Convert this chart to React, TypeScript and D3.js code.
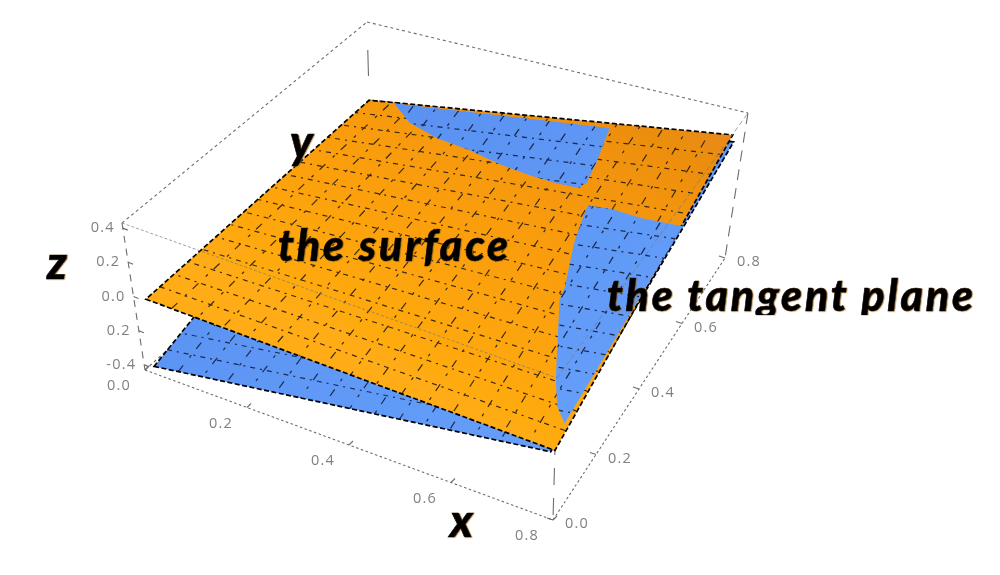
import React from "react";
import * as d3 from "d3";

const W = 1000, H = 575;
const xDomain = [0, 0.8], yDomain = [0, 0.8], zDomain = [-0.43, 0.43];
const xTicks = [0, 0.2, 0.4, 0.6, 0.8];
const yTicks = [0, 0.2, 0.4, 0.6, 0.8];
const zTicks = [-0.4, -0.2, 0, 0.2, 0.4];
const xTickLabels = ["0.0", "0.2", "0.4", "0.6", "0.8"];
const yTickLabels = ["0.0", "0.2", "0.4", "0.6", "0.8"];
const zTickLabels = ["-0.4", "0.2", "0.0", "0.2", "0.4"];

// Surface corners: order (x0,y0) (x1,y0) (x1,y1) (x0,y1)
const surfaceX = [0.024, 0.8, 0.776, 0];
const surfaceY = [0, 0, 0.8, 0.8];
const surfaceZ = [0.011, -0.009, 0.284, -0.034];
const planeX = [0.02, 0.792, 0.78, 0];
const planeY = [0, 0, 0.8, 0.8];
const planeZ = [-0.387, -0.026, 0.245, -0.034];
const meshLines = 15;

// Where the plane shows through the surface, in plane parameters [s, t]
const planeGapBack: [number, number][] = [[0.07,1],[0.15,0.94],[0.25,0.9],[0.35,0.875],[0.46,0.84],[0.545,0.82],[0.626,0.805],[0.69,0.8],[0.7,0.82],[0.69,0.89],[0.665,1]];
const planeGapFront: [number, number][] = [[0.74,0.75],[0.8,0.75],[0.888,0.735],[1,0.728],[0.995,0.09],[0.957,0.135],[0.918,0.213],[0.816,0.45],[0.81,0.49],[0.765,0.63],[0.745,0.72]];

// Box corner projection
const B00 = [145, 370], B10 = [553, 520], B11 = [725, 258], B01 = [371, 167];
const T00 = [122, 223], T10 = [557, 378], T11 = [748, 113], T01 = [367, 22];

const uS = d3.scaleLinear().domain(xDomain).range([0, 1]);
const vS = d3.scaleLinear().domain(yDomain).range([0, 1]);
const wS = d3.scaleLinear().domain(zDomain).range([0, 1]);

function bil(a: number[], b: number[], c: number[], d: number[], s: number, t: number): [number, number] {
  const f = (i: number) => a[i] * (1 - s) * (1 - t) + b[i] * s * (1 - t) + c[i] * s * t + d[i] * (1 - s) * t;
  return [f(0), f(1)];
}
function project(x: number, y: number, z: number): [number, number] {
  const u = uS(x), v = vS(y), w = wS(z);
  const bot = bil(B00, B10, B11, B01, u, v);
  const top = bil(T00, T10, T11, T01, u, v);
  return [bot[0] + (top[0] - bot[0]) * w, bot[1] + (top[1] - bot[1]) * w];
}
function sheet(xs: number[], ys: number[], zs: number[]) {
  const c = xs.map((v, i) => [v, ys[i]]);
  return (s: number, t: number) => {
    const [x, y] = bil(c[0], c[1], c[2], c[3], s, t);
    const z = zs[0] * (1 - s) * (1 - t) + zs[1] * s * (1 - t) + zs[2] * s * t + zs[3] * (1 - s) * t;
    return project(x, y, z);
  };
}
const surfaceAt = sheet(surfaceX, surfaceY, surfaceZ);
const planeAt = sheet(planeX, planeY, planeZ);
const line = d3.line();
const closed = (pts: [number, number][]) => line(pts) + "Z";
const outline = (at: (s: number, t: number) => [number, number]) => closed([at(0, 0), at(1, 0), at(1, 1), at(0, 1)]);
const meshFractions = d3.range(1, meshLines + 1).map((i) => i / (meshLines + 1));

function Mesh({ at, color, width }: { at: (s: number, t: number) => [number, number]; color: string; width: number }) {
  return (
    <g fill="none" stroke={color} strokeWidth={width}>
      {meshFractions.map((f, i) => (
        <path key={"a" + f} d={line([at(0, f), at(1, f)]) as string} strokeDasharray="5 5 2 5" strokeDashoffset={i * 5} />
      ))}
      {meshFractions.map((f, i) => (
        <path key={"b" + f} d={line([at(f, 0), at(f, 1)]) as string} strokeDasharray="8 10 3 8" strokeDashoffset={i * 13} />
      ))}
    </g>
  );
}

const seg = (a: number[], b: number[]) => line([a as [number, number], b as [number, number]]) as string;

export default function App() {
  const grey = "#6d6d6d";
  const labelStyle = { fontFamily: "'Open Sans', 'DejaVu Sans', sans-serif", fontSize: 14.5, fill: "#808080", letterSpacing: 1.2 };
  const bigStyle = { fontFamily: "Lato, 'Open Sans', sans-serif", fontWeight: 900, fontStyle: "italic", fill: "#000", stroke: "#000", strokeWidth: 0.6 } as const;
  return (
    <svg width={W} height={H} viewBox={`0 0 ${W} ${H}`} style={{ position: "absolute", left: 0, top: 0, background: "#fff" }}>
      <defs>
        <linearGradient id="orangeGrad" gradientUnits="userSpaceOnUse" x1={700} y1={120} x2={520} y2={440}>
          <stop offset="0" stopColor="#e88a12" />
          <stop offset="0.3" stopColor="#f4960e" />
          <stop offset="0.6" stopColor="#fb9f0e" />
          <stop offset="1" stopColor="#ffac12" />
        </linearGradient>
        <linearGradient id="blueGrad" gradientUnits="userSpaceOnUse" x1={400} y1={120} x2={600} y2={420}>
          <stop offset="0" stopColor="#5a92f2" />
          <stop offset="1" stopColor="#659ffa" />
        </linearGradient>
        <clipPath id="gapClip">
          <path d={closed(planeGapBack.map(([s, t]) => planeAt(s, t)))} />
          <path d={closed(planeGapFront.map(([s, t]) => planeAt(s, t)))} />
        </clipPath>
        <clipPath id="planeLabelClip">
          <rect x={590} y={270} width={400} height={45} />
        </clipPath>
        <filter id="soft" x="-5%" y="-5%" width="110%" height="110%">
          <feGaussianBlur stdDeviation="0.65" />
        </filter>
        <filter id="halo" x="-5%" y="-20%" width="110%" height="140%">
          <feGaussianBlur stdDeviation="0.4" result="b" />
          <feDropShadow in="b" dx="0.8" dy="0.4" stdDeviation="0.6" floodColor="#9a6a20" floodOpacity="0.7" />
        </filter>
      </defs>
      <g filter="url(#soft)">
        {/* back box edges */}
        <g fill="none" stroke={grey} strokeWidth={1.1}>
          <path d={seg(T00, T01)} strokeDasharray="3 3" />
          <path d={seg(T01, T11)} strokeDasharray="3 3" />
          <path d={seg(T00, B00)} strokeDasharray="7 6" />
          <path d={seg(T11, B11)} strokeDasharray="11 8" />
          <path d={seg(T01, B01)} strokeDasharray="26 100" strokeDashoffset={-28} />
          <path d={seg(B00, B01)} strokeDasharray="3 3" />
          <path d={seg(B00, B10)} strokeDasharray="2.5 2.5" />
          <path d={seg(B10, B11)} strokeDasharray="2.5 2.5" />
          <path d={seg(T10, B10)} strokeDasharray="17 13" />
          {xTicks.map((t) => {
            const p = project(t, 0, zDomain[0]);
            return <path key={"xt" + t} d={seg(p, [p[0] + 4, p[1] - 4])} />;
          })}
          {yTicks.map((t) => {
            const p = project(0.8, t, zDomain[0]);
            return <path key={"yt" + t} d={seg(p, [p[0] - 6, p[1] - 2])} />;
          })}
          {zTicks.map((t) => {
            const p = project(0, 0, t);
            return <path key={"zt" + t} d={seg(p, [p[0] + 5, p[1] + 2])} />;
          })}
        </g>

        {/* tangent plane */}
        <path d={outline(planeAt)} fill="url(#blueGrad)" />
        <Mesh at={planeAt} color="#1d2c50" width={1.2} />
        <path d={outline(planeAt)} fill="none" stroke="#000" strokeWidth={1.7} strokeDasharray="5 2.5" />

        {/* surface */}
        <path d={outline(surfaceAt)} fill="url(#orangeGrad)" />
        <Mesh at={surfaceAt} color="#3c2a12" width={1.2} />
        <path d={outline(surfaceAt)} fill="none" stroke="#000" strokeWidth={1.7} strokeDasharray="5 2.5" />

        {/* plane showing through the surface */}
        <g clipPath="url(#gapClip)">
          <path d={outline(planeAt)} fill="url(#blueGrad)" />
          <Mesh at={planeAt} color="#1d2c50" width={1.3} />
        </g>

        {/* front box edges seen through the sheets */}
        <g fill="none" stroke="#7a7a6e" strokeWidth={1} opacity={0.7}>
          <path d={seg(T00, T10)} strokeDasharray="3 2" />
          <path d={seg(T10, T11)} strokeDasharray="5 3" />
        </g>

        {/* tick labels */}
        {xTicks.map((t, i) => {
          const p = project(t, 0, zDomain[0]);
          return <text key={"xl" + t} x={p[0] - 26} y={p[1] + 20} textAnchor="middle" style={labelStyle}>{xTickLabels[i]}</text>;
        })}
        {yTicks.map((t, i) => {
          const p = project(0.8, t, zDomain[0]);
          return <text key={"yl" + t} x={p[0] + 24} y={p[1] + 8} textAnchor="middle" style={labelStyle}>{yTickLabels[i]}</text>;
        })}
        {zTicks.map((t, i) => {
          const p = project(0, 0, t);
          return <text key={"zl" + t} x={p[0] - 8} y={p[1] + 4} textAnchor="end" style={labelStyle}>{zTickLabels[i]}</text>;
        })}
      </g>

      {/* annotations */}
      <g filter="url(#halo)">
        <text x={278} y={261} textLength={230} lengthAdjust="spacing" style={{ ...bigStyle, fontSize: 43 }}>the surface</text>
        <g clipPath="url(#planeLabelClip)">
          <text x={607} y={311} textLength={366} lengthAdjust="spacing" style={{ ...bigStyle, fontSize: 43 }}>the tangent plane</text>
        </g>
        <text x={450} y={537} style={{ ...bigStyle, fontSize: 46 }}>x</text>
        <text x={290} y={158} style={{ ...bigStyle, fontSize: 46 }}>y</text>
        <text x={47} y={279} style={{ ...bigStyle, fontSize: 46 }}>z</text>
      </g>
    </svg>
  );
}
